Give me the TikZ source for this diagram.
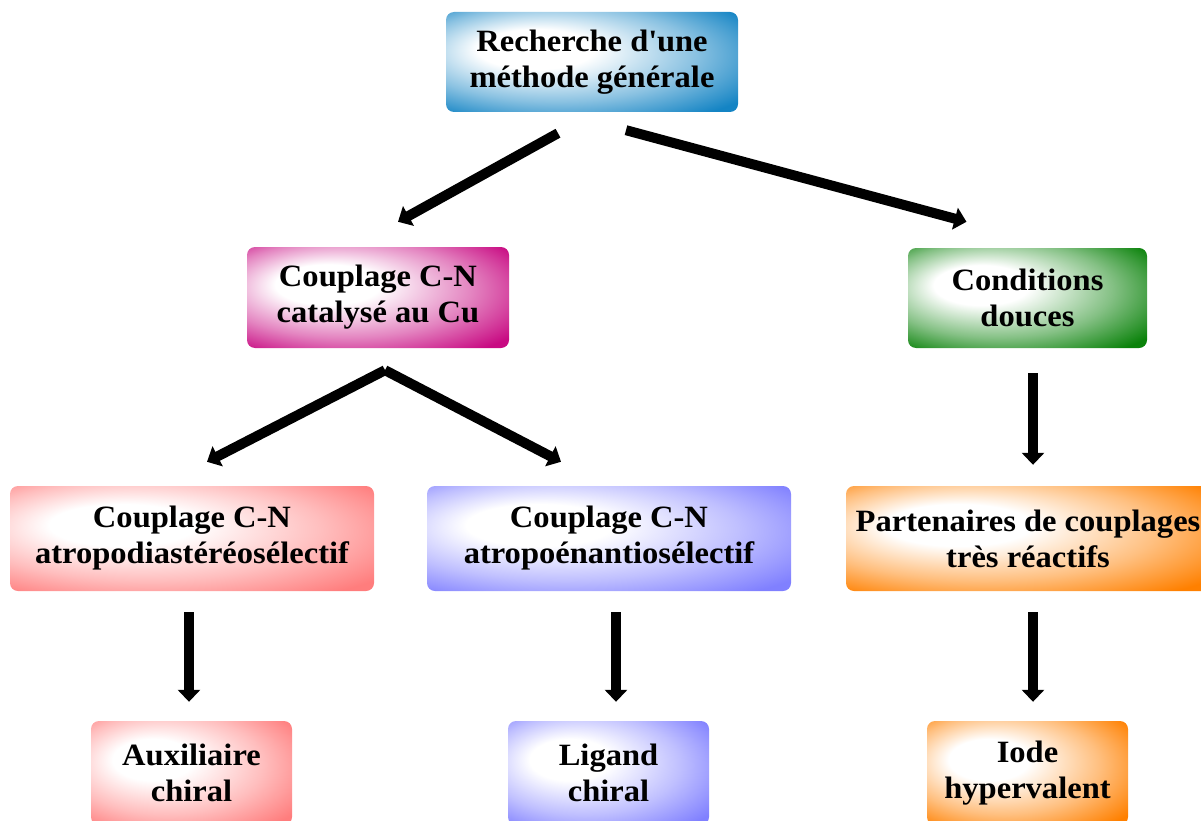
\documentclass[tikz,border=0pt]{standalone}
\usepackage{fontspec}
\setmainfont{Liberation Serif}[FakeStretch=1.05]
\usetikzlibrary{arrows.meta}
\colorlet{boxcol}{blue}
\definecolor{cblue}{RGB}{20,132,196}
\definecolor{cmag}{RGB}{200,10,130}
\definecolor{cgreen}{RGB}{10,130,10}
\definecolor{cpink}{RGB}{255,125,125}
\definecolor{cviolet}{RGB}{128,128,255}
\definecolor{corange}{RGB}{255,128,0}
\pgfdeclareradialshading[boxcol]{glow}{\pgfpoint{-12bp}{8bp}}{color(0bp)=(white); color(10bp)=(white); color(24bp)=(boxcol!50); color(36bp)=(boxcol); color(50bp)=(boxcol)}
\tikzset{
  box/.style={/utils/exec={\colorlet{boxcol}{#1}}, shading=glow, rounded corners=8pt,
    inner sep=0pt, align=center, font=\fontsize{31}{36}\selectfont\bfseries},
  arr/.style={line width=10pt, -{Triangle[length=12pt,width=22pt]}}
}
\begin{document}
\begin{tikzpicture}[x=1pt,y=-1pt]
\useasboundingbox (0,0) rectangle (1201,821);
\clip (0,0) rectangle (1201,821);
\node[box=cblue, minimum width=292pt, minimum height=100pt] (top) at (592,62) {Recherche d\textquotesingle une\\méthode générale};
\node[box=cmag, minimum width=262pt, minimum height=101pt] (cu) at (378,297.5) {Couplage C-N\\catalysé au Cu};
\node[box=cgreen, minimum width=239pt, minimum height=100pt] (douces) at (1027.5,298) {Conditions\\douces};
\node[box=cpink, minimum width=364pt, minimum height=105pt] (diast) at (192,538.5) {Couplage C-N\\atropodiastéréosélectif};
\node[box=cviolet, minimum width=364pt, minimum height=105pt] (enant) at (609,538.5) {Couplage C-N\\atropoénantiosélectif};
\node[box=corange, minimum width=364pt, minimum height=105pt] (part) at (1028,538.5) {Partenaires de couplages\\très réactifs};
\node[box=cpink, minimum width=201pt, minimum height=104pt] (aux) at (191.5,773) {Auxiliaire\\chiral};
\node[box=cviolet, minimum width=201pt, minimum height=104pt] (lig) at (608.5,773) {Ligand\\chiral};
\node[box=corange, minimum width=201pt, minimum height=104pt] (iode) at (1027.5,773) {Iode\\hypervalent};
\draw[arr] ([shift={(-34,21)}]top.south) -- ([shift={(20,-25)}]cu.north);
\draw[arr] ([shift={(34,18)}]top.south) -- ([shift={(-61,-26)}]douces.north);
\coordinate (apex) at ([shift={(7,22)}]cu.south);
\draw[arr] (apex) -- ([shift={(15,-24)}]diast.north);
\draw[arr] (apex) -- ([shift={(-48,-24)}]enant.north);
\draw[arr] ([shift={(5.5,25)}]douces.south) -- ([shift={(5,-21)}]part.north);
\draw[arr] ([shift={(-3,21)}]diast.south) -- ([shift={(-2.5,-19)}]aux.north);
\draw[arr] ([shift={(7,21)}]enant.south) -- ([shift={(7.5,-19)}]lig.north);
\draw[arr] ([shift={(5,21)}]part.south) -- ([shift={(5.5,-19)}]iode.north);
\end{tikzpicture}
\end{document}
